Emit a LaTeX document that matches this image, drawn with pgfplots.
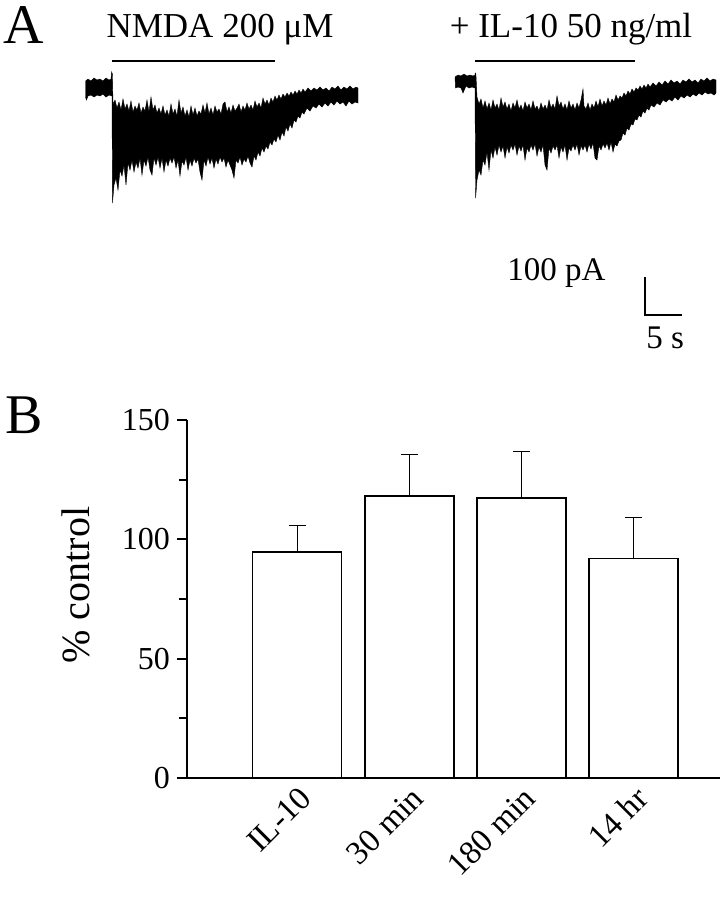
\documentclass[border=0pt]{standalone}
\usepackage{fontspec}
\setmainfont{Liberation Serif}
\usepackage{pgfplots}
\pgfplotsset{compat=1.18}

\begin{document}
\begin{tikzpicture}
% panel A: traces, in image-like units (x right, y down)
\begin{axis}[
    name=A, at={(0pt,0pt)}, anchor=north west,
    scale only axis, width=360.5pt, height=190pt,
    xmin=0, xmax=721, ymin=0, ymax=380, y dir=reverse,
    hide axis, clip=false,
]
% control trace (envelope of the current)
\addplot[fill=black, draw=black, line width=0.2pt, mark=none] coordinates {
 (85.5,81) (88,79) (91,81) (94,78) (97,80) (100,79) (103,81) (106,78) (109,80) (111,79) (111.6,72) (112.4,74)
 (113,104) (115,100) (117,108) (119,102) (121,110) (123,99) (125,109) (127,104) (129,111) (131,101) (133,112)
 (135,106) (137,110) (139,103) (141,113) (143,107) (145,111) (147,100) (149,112) (151,97) (153,110) (155,105)
 (157,113) (159,108) (161,114) (163,106) (165,115) (167,110) (169,116) (171,104) (173,114) (175,109) (177,116)
 (179,100) (181,113) (183,107) (185,116) (187,110) (189,117) (191,106) (193,115) (195,108) (197,116) (199,111)
 (201,114) (203,105) (205,113) (207,103) (209,114) (211,108) (213,115) (215,106) (217,112) (219,109) (221,114)
 (223,104) (225,102) (227,112) (229,107) (231,113) (233,105) (235,111) (237,108) (239,104) (241,112) (243,106)
 (245,110) (247,103) (249,109) (251,105) (253,110) (255,101) (257,107) (259,103) (261,108) (263,98) (265,104)
 (267,100) (269,105) (271,98) (273,102) (275,96) (277,100) (279,95) (281,99) (283,94) (285,97) (287,93) (289,96)
 (291,92) (293,95) (295,91) (297,94) (299,90) (301,93) (303,89) (305,92) (308,88) (311,91) (314,88) (317,90)
 (320,87) (323,90) (326,88) (329,91) (332,87) (335,89) (338,86) (341,90) (344,87) (347,89) (350,86) (353,89)
 (356,87) (358,88)
 (358,103) (355,102) (352,104) (349,101) (346,106) (343,102) (340,104) (337,101) (334,105) (331,102) (328,106)
 (325,103) (322,107) (319,104) (316,108) (313,106) (310,111) (307,108) (304,114) (302,112) (300,118) (298,116)
 (296,122) (294,120) (292,128) (290,124) (288,131) (286,127) (284,136) (282,132) (280,140) (278,135) (276,142)
 (274,139) (272,145) (270,142) (268,149) (266,146) (264,152) (262,148) (260,156) (258,152) (256,160) (254,156)
 (252,167) (250,163) (248,156) (246,162) (244,159) (242,165) (240,157) (238,163) (236,160) (234,178) (232,170)
 (230,165) (228,160) (226,167) (224,158) (222,162) (220,157) (218,164) (216,159) (214,168) (212,158) (210,164)
 (208,157) (206,166) (204,160) (202,180) (200,172) (198,159) (196,163) (194,158) (192,166) (190,160) (188,170)
 (186,157) (184,165) (182,161) (180,176) (178,160) (176,168) (174,157) (172,163) (170,158) (168,166) (166,160)
 (164,172) (162,158) (160,168) (158,157) (156,165) (154,158) (152,175) (150,170) (148,157) (146,166) (144,160)
 (142,175) (140,158) (138,168) (136,162) (134,172) (132,160) (130,170) (128,163) (126,185) (124,165) (122,176)
 (120,170) (118,190) (116,178) (114,185) (112.5,203)
 (112,96) (109,95) (106,97) (103,94) (100,96) (97,95) (94,97) (91,95) (88,96) (86.5,100) (85.5,97)
} -- cycle;
% with IL-10
\addplot[fill=black, draw=black, line width=0.2pt, mark=none] coordinates {
 (455,77) (458,75) (461,76) (464,74) (467,76) (470,75) (473,76) (475,75) (475.2,73) (475.9,74)
 (477,97) (479,104) (481,99) (483,108) (485,101) (487,109) (489,103) (491,110) (493,100) (495,108) (497,104)
 (499,110) (501,98) (503,107) (505,102) (507,109) (509,104) (511,111) (513,103) (515,108) (517,100) (519,109)
 (521,105) (523,111) (525,102) (527,108) (529,104) (531,110) (533,101) (535,109) (537,106) (539,111) (541,103)
 (543,109) (545,105) (547,110) (549,100) (551,108) (553,104) (555,109) (557,96) (559,106) (561,102) (563,109)
 (565,104) (567,110) (569,101) (571,108) (573,104) (575,110) (577,103) (579,108) (581,100) (583,89) (584,106)
 (586,109) (588,103) (590,110) (592,104) (594,108) (596,101) (598,107) (600,99) (602,106) (604,101) (606,105)
 (608,98) (610,104) (612,99) (614,102) (616,95) (618,100) (620,96) (622,98) (624,93) (626,96) (628,91) (630,94)
 (632,89) (634,92) (636,88) (638,90) (640,86) (642,89) (644,85) (646,88) (648,84) (650,87) (653,83) (656,86)
 (659,82) (662,85) (665,81) (668,84) (671,80) (674,83) (677,81) (680,84) (683,80) (686,82) (689,79) (692,82)
 (695,80) (698,83) (701,79) (704,81) (707,78) (710,81) (713,79) (716,80)
 (716,93) (714,95) (711,93) (708,94) (705,92) (702,95) (699,93) (696,96) (693,94) (690,97) (687,95) (684,98)
 (681,96) (678,100) (675,97) (672,101) (669,99) (666,102) (663,100) (660,105) (657,103) (654,107) (651,105)
 (649,110) (647,108) (645,113) (643,111) (641,117) (639,115) (637,120) (635,119) (633,125) (631,124) (629,130)
 (627,128) (625,135) (623,133) (621,140) (619,141) (617,146) (615,144) (613,152) (611,142) (609,150) (607,143)
 (605,148) (603,144) (601,150) (599,146) (597,160) (595,158) (593,143) (591,149) (589,144) (587,152) (585,145)
 (583,150) (581,146) (579,155) (577,144) (575,150) (573,145) (571,151) (569,148) (567,160) (565,145) (563,152)
 (561,147) (559,158) (557,145) (555,150) (553,146) (551,153) (549,148) (547,170) (545,165) (543,145) (541,152)
 (539,147) (537,156) (535,144) (533,150) (531,145) (529,152) (527,148) (525,160) (523,145) (521,151) (519,146)
 (517,155) (515,144) (513,150) (511,145) (509,153) (507,147) (505,158) (503,146) (501,152) (499,145) (497,155)
 (495,147) (493,158) (491,150) (489,170) (487,152) (485,165) (483,160) (481,175) (479,170) (477,180) (475.6,198)
 (475,88) (472,87) (469,88) (466,86) (463,93) (461,88) (458,87) (455.5,88)
} -- cycle;
% application bars
\addplot[black, line width=1.2pt, mark=none] coordinates {(112,61) (275,61)};
\addplot[black, line width=1.2pt, mark=none] coordinates {(475,61) (635,61)};
% scale bar
\addplot[black, line width=0.8pt, mark=none] coordinates {(645,277) (645,315) (682,315)};

\node[anchor=base west, inner sep=0pt, font=\fontsize{28}{30}\selectfont] at (axis cs:3,43) {A};
\node[anchor=base, inner sep=0pt, font=\fontsize{17.5}{20}\selectfont] at (axis cs:220,37) {NMDA 200 μM};
\node[anchor=base, inner sep=0pt, font=\fontsize{17.5}{20}\selectfont] at (axis cs:571,37) {+ IL-10 50 ng/ml};
\node[anchor=base west, inner sep=0pt, font=\fontsize{16.5}{19}\selectfont] at (axis cs:507,280) {100 pA};
\node[anchor=base west, inner sep=0pt, font=\fontsize{16.5}{19}\selectfont] at (axis cs:646,348) {5 s};
\end{axis}

% panel B: bar chart
\begin{axis}[
    at={(93.5pt,-389pt)}, anchor=south west,
    scale only axis, width=266.5pt, height=179pt,
    xmin=0.018, xmax=4.77, ymin=0, ymax=150,
    axis x line*=bottom, axis y line*=left,
    axis line style={line width=1.3pt},
    clip=false,
    ytick={0,50,100,150}, minor ytick={25,75,125},
    tick align=outside, major tick length=5pt, minor tick length=4pt,
    ytick style={line width=1pt, black},
    xtick={1.12,2.12,3.12,4.12}, xtick style={draw=none},
    xticklabels={IL-10, 30 min, 180 min, 14 hr},
    x tick label style={rotate=45, anchor=east, font=\fontsize{16.5}{19}\selectfont},
    y tick label style={font=\fontsize{16}{19}\selectfont},
    /pgf/number format/assume math mode=true,
    ylabel={\% control},
    ylabel style={at={(axis description cs:-0.208,0.539)}, anchor=center,
        font=\fontsize{20}{24}\selectfont},
]
\addplot[ybar, bar width=44.5pt, bar shift=0pt, fill=white, draw=black, line width=0.85pt,
    error bars/.cd, y dir=plus, y explicit,
    error bar style={line width=0.5pt, black},
    error mark options={rotate=90, mark size=4.25pt, line width=0.5pt, black}]
  coordinates {
    (1,94.6) +- (0,11.1)
    (2,118.3) +- (0,17.4)
    (3,117.2) +- (0,19.5)
    (4,92.0) +- (0,17.2)
};
\node[anchor=base west, inner sep=0pt, font=\fontsize{28}{30}\selectfont] at (axis description cs:-0.341,0.961) {B};
\end{axis}

\pgfresetboundingbox
\path[use as bounding box] (0pt,0pt) rectangle (360.5pt,-450pt);
\end{tikzpicture}
\end{document}
